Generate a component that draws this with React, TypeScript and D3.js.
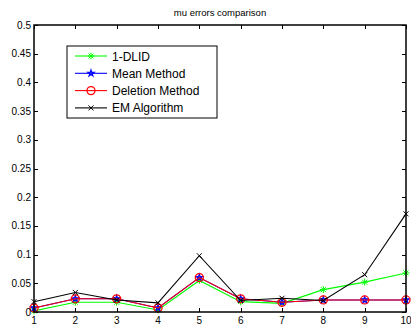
import {useEffect, useRef} from 'react';
import * as d3 from 'd3';

const runs = [1, 2, 3, 4, 5, 6, 7, 8, 9, 10];
const dlid = [0.002, 0.017, 0.017, 0.0035, 0.055, 0.018, 0.015, 0.039, 0.052, 0.068];
const meanMethod = [0.007, 0.023, 0.023, 0.007, 0.06, 0.023, 0.017, 0.021, 0.021, 0.021];
const deletion = [0.007, 0.023, 0.023, 0.007, 0.06, 0.023, 0.017, 0.021, 0.021, 0.021];
const emAlgorithm = [0.018, 0.034, 0.021, 0.016, 0.098, 0.02, 0.024, 0.02, 0.065, 0.171];
const yTicks = [0, 0.05, 0.1, 0.15, 0.2, 0.25, 0.3, 0.35, 0.4, 0.45, 0.5];

const series = [
  {name: '1-DLID', values: dlid, color: '#00ff00', marker: 'asterisk'},
  {name: 'Mean Method', values: meanMethod, color: '#0000ff', marker: 'star'},
  {name: 'Deletion Method', values: deletion, color: '#ff0000', marker: 'circle'},
  {name: 'EM Algorithm', values: emAlgorithm, color: '#000000', marker: 'x'},
];

const W = 411;
const H = 326;
const left = 34;
const right = 406;
const top = 25;
const bottom = 312;

const drawMarker = (g: any, type: string, x: number, y: number, color: string) => {
  if (type === 'asterisk') {
    const r = 3.5;
    const p = `M${x - r},${y}L${x + r},${y}M${x},${y - r}L${x},${y + r}` +
      `M${x - 2.5},${y - 2.5}L${x + 2.5},${y + 2.5}M${x - 2.5},${y + 2.5}L${x + 2.5},${y - 2.5}`;
    g.append('path').attr('d', p).attr('stroke', color).attr('stroke-width', 1).attr('fill', 'none');
  } else if (type === 'star') {
    g.append('path')
      .attr('d', d3.symbol(d3.symbolStar, 12)())
      .attr('transform', `translate(${x},${y})`)
      .attr('fill', 'none')
      .attr('stroke', color)
      .attr('stroke-width', 1.2);
  } else if (type === 'circle') {
    g.append('circle').attr('cx', x).attr('cy', y).attr('r', 4)
      .attr('fill', 'none').attr('stroke', color).attr('stroke-width', 1.3);
  } else {
    const r = 2.5;
    const p = `M${x - r},${y - r}L${x + r},${y + r}M${x - r},${y + r}L${x + r},${y - r}`;
    g.append('path').attr('d', p).attr('stroke', color).attr('stroke-width', 1).attr('fill', 'none');
  }
};

const App = () => {
  const ref = useRef<SVGSVGElement>(null);

  useEffect(() => {
    const svg = d3.select(ref.current);
    svg.selectAll('*').remove();

    const x = d3.scaleLinear().domain([1, 10]).range([left, right]);
    const y = d3.scaleLinear().domain([0, 0.5]).range([bottom, top]);

    svg.append('rect').attr('width', W).attr('height', H).attr('fill', '#ffffff');

    // title
    svg.append('text')
      .attr('x', (left + right) / 2)
      .attr('y', 16)
      .attr('text-anchor', 'middle')
      .attr('font-size', 9.5)
      .attr('font-family', 'Liberation Sans, Arial, sans-serif')
      .text('mu errors comparison');

    // ticks on all four sides (pointing inward)
    const ticks = svg.append('g').attr('stroke', '#000').attr('stroke-width', 1);
    runs.forEach((r) => {
      const px = Math.round(x(r)) + 0.5;
      ticks.append('line').attr('x1', px).attr('x2', px).attr('y1', bottom).attr('y2', bottom - 4);
      ticks.append('line').attr('x1', px).attr('x2', px).attr('y1', top).attr('y2', top + 4);
    });
    yTicks.forEach((t) => {
      const py = Math.round(y(t)) + 0.5;
      ticks.append('line').attr('x1', left).attr('x2', left + 4).attr('y1', py).attr('y2', py);
      ticks.append('line').attr('x1', right).attr('x2', right - 4).attr('y1', py).attr('y2', py);
    });

    // data lines
    const line = d3.line<number>()
      .x((_, i) => x(runs[i]))
      .y((d) => y(d));

    series.forEach((s) => {
      const g = svg.append('g');
      g.append('path')
        .datum(s.values)
        .attr('d', line)
        .attr('fill', 'none')
        .attr('stroke', s.color)
        .attr('stroke-width', 1.1);
      s.values.forEach((v, i) => drawMarker(g, s.marker, x(runs[i]), y(v), s.color));
    });

    // box
    svg.append('rect')
      .attr('x', left).attr('y', top)
      .attr('width', right - left).attr('height', bottom - top)
      .attr('fill', 'none').attr('stroke', '#000').attr('stroke-width', 1.5);

    // tick labels
    const labels = svg.append('g')
      .attr('font-size', 10)
      .attr('font-family', 'Liberation Sans, Arial, sans-serif')
      .attr('fill', '#000');
    runs.forEach((r) => {
      labels.append('text').attr('x', x(r)).attr('y', 324).attr('text-anchor', 'middle').text(String(r));
    });
    yTicks.forEach((t) => {
      labels.append('text').attr('x', left - 3).attr('y', y(t) + 3.5)
        .attr('text-anchor', 'end').text(String(t));
    });

    // legend
    const lg = svg.append('g');
    lg.append('rect').attr('x', 67).attr('y', 46).attr('width', 150).attr('height', 72)
      .attr('fill', '#fff').attr('stroke', '#000').attr('stroke-width', 1);
    series.forEach((s, i) => {
      const ly = 56 + i * 17.3;
      lg.append('line').attr('x1', 75).attr('x2', 107).attr('y1', ly).attr('y2', ly)
        .attr('stroke', s.color).attr('stroke-width', 1.1);
      drawMarker(lg, s.marker, 91, ly, s.color);
      lg.append('text').attr('x', 112).attr('y', ly + 4.5)
        .attr('font-size', 12)
        .attr('font-family', 'Liberation Sans, Arial, sans-serif')
        .text(s.name);
    });
  }, []);

  return (
    <svg ref={ref} width={W} height={H} style={{display: 'block', position: 'absolute', left: 0, top: 0}} />
  );
};

export default App;
